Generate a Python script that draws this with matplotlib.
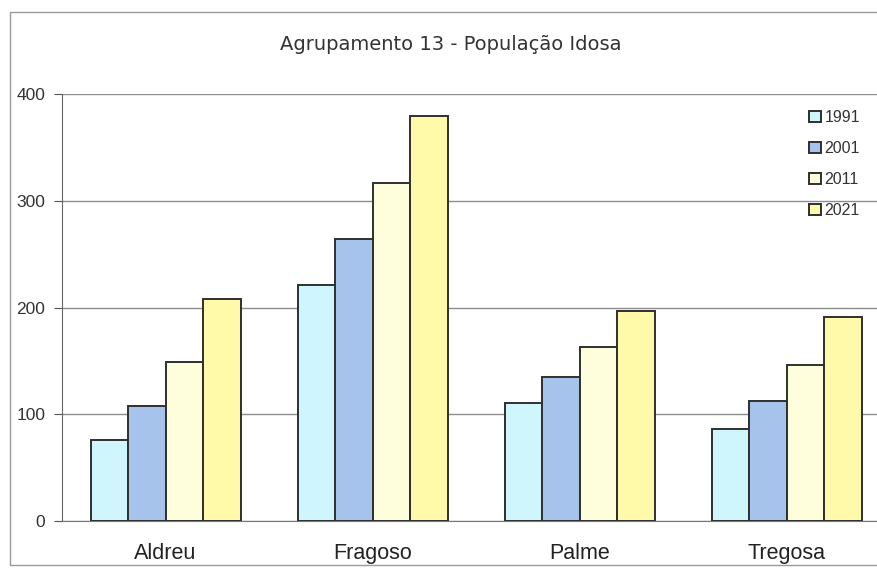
import numpy as np
import matplotlib.pyplot as plt
from matplotlib.patches import Rectangle

# data
places = ['Aldreu', 'Fragoso', 'Palme', 'Tregosa']
years = ['1991', '2001', '2011', '2021']
v1991 = [76, 221, 111, 86]
v2001 = [108, 264, 135, 112]
v2011 = [149, 317, 163, 146]
v2021 = [208, 379, 197, 191]
colors = ['#CFF6FD', '#A6C3EC', '#FFFEDC', '#FFFAAA']

series = [v1991, v2001, v2011, v2021]

fig = plt.figure(figsize=(8.78, 5.72), dpi=100)
ax = fig.add_axes([62 / 878, 1 - 521 / 572, 1 - 62 / 878, (521 - 94) / 572])

# outer chart border
fig.patches.append(Rectangle((10 / 878, 1 - 565 / 572), 1.2, (565 - 12) / 572,
                             transform=fig.transFigure, fill=False,
                             edgecolor='#9a9a9a', lw=1.0))

x = np.arange(len(places))
w = 0.181
for i, vals in enumerate(series):
    ax.bar(x + (i - 1.5) * w, vals, width=w, color=colors[i],
           edgecolor='#2f2f2f', linewidth=1.4, label=years[i], zorder=3)

ax.set_ylim(0, 400)
ax.set_xlim(-0.5, 3.44)
ax.set_yticks([0, 100, 200, 300, 400])
ax.set_xticks(x)
ax.set_xticklabels(places, fontsize=15.5, family='Liberation Sans')
ax.tick_params(axis='x', length=0, pad=16)
ax.tick_params(axis='y', length=6, color='#555555', labelsize=12.5, pad=6)
for lab in ax.get_yticklabels():
    lab.set_family('Liberation Sans')
    lab.set_color('#333333')
for lab in ax.get_xticklabels():
    lab.set_color('#222222')
ax.yaxis.grid(True, color='#8c8c8c', lw=1.0, zorder=0)
for s in ['top', 'right']:
    ax.spines[s].set_visible(False)
ax.spines['left'].set_color('#666666')
ax.spines['bottom'].set_color('#777777')

fig.text(0.513, 1 - 45 / 572, 'Agrupamento 13 - População Idosa',
         ha='center', va='center', fontsize=14, color='#333333',
         family='DejaVu Sans')

leg = ax.legend(loc='upper left', bbox_to_anchor=((795 - 62) / 816, 0.996),
                bbox_transform=ax.transAxes, frameon=False,
                prop={'family': 'Liberation Sans', 'size': 11.5},
                handlelength=0.75, handleheight=0.75, handletextpad=0.2,
                labelspacing=1.0)
for t in leg.get_texts():
    t.set_color('#333333')

plt.savefig('out.png', dpi=100)
